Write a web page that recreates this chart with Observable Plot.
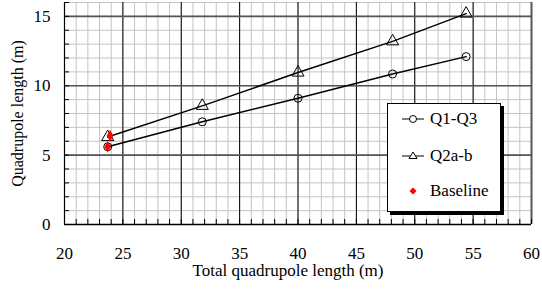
<!DOCTYPE html>
<html>
<head>
<meta charset="utf-8">
<script src="https://cdn.jsdelivr.net/npm/d3@7"></script>
<script src="https://cdn.jsdelivr.net/npm/@observablehq/plot@0.6"></script>
<style>
  html, body { margin: 0; padding: 0; background: white; }
  #wrap { position: relative; width: 542px; height: 289px; font-family: "Liberation Serif", "Times New Roman", serif; }
  #legend { position: absolute; left: 387px; top: 103px; width: 114px; height: 109px; background: white;
            border: 1px solid #000; box-shadow: 3px 3px 0 #000; box-sizing: border-box; }
  .item { position: absolute; left: 14px; height: 20px; display: flex; align-items: center; font-size: 17px; font-family: "Liberation Serif", serif; }
  .item svg { margin-right: 6px; }
</style>
</head>
<body>
<div id="wrap"></div>
<script>
// Data
const q13X = [23.7, 31.8, 40.0, 48.1, 54.4];
const q13Y = [5.6, 7.4, 9.1, 10.85, 12.1];
const q2X = [23.7, 31.8, 40.0, 48.1, 54.4];
const q2Y = [6.3, 8.55, 10.95, 13.2, 15.2];
const baseX = [23.9, 23.7];
const baseY = [6.4, 5.6];
const xTickLabels = [20, 25, 30, 35, 40, 45, 50, 55, 60];
const yTickLabels = [0, 5, 10, 15];
const seriesNames = ["Q1-Q3", "Q2a-b", "Baseline"];

const q13 = q13X.map((x, i) => ({x, y: q13Y[i]}));
const q2 = q2X.map((x, i) => ({x, y: q2Y[i]}));
const base = baseX.map((x, i) => ({x, y: baseY[i]}));

const minorX = d3.range(20, 61, 1);
const minorY = d3.range(0, 17, 1);
const majorX = xTickLabels;
const majorY = [5, 10, 15];
const serif = "'Liberation Serif', 'Times New Roman', serif";

const chart = Plot.plot({
  width: 542, height: 289,
  marginLeft: 64, marginRight: 11, marginTop: 2, marginBottom: 65,
  x: {domain: [20, 60], label: null},
  y: {domain: [0, 16], label: null},
  style: {fontFamily: serif, fontSize: "17px", background: "white", color: "#000"},
  marks: [
    Plot.gridX(minorX, {stroke: "#c4c4c4", strokeOpacity: 1}),
    Plot.gridY(minorY, {stroke: "#c4c4c4", strokeOpacity: 1}),
    Plot.gridX(majorX, {stroke: "#000", strokeOpacity: 1}),
    Plot.gridY(majorY, {stroke: "#555", strokeWidth: 1.6, strokeOpacity: 1}),
    Plot.ruleX([60], {stroke: "#555", strokeWidth: 2}),
    Plot.axisX(minorX, {tickSize: -5, text: null, label: null, stroke: "#000"}),
    Plot.axisY(minorY, {tickSize: -5, text: null, label: null, stroke: "#000"}),
    Plot.axisX(xTickLabels, {tickSize: 0, tickPadding: 22, label: null, fontSize: 17, fontFamily: serif}),
    Plot.axisY(yTickLabels, {tickSize: 0, tickPadding: 14, label: null, fontSize: 17, fontFamily: serif}),
    Plot.ruleX([20], {stroke: "#000", strokeWidth: 1.2}),
    Plot.ruleY([0], {stroke: "#000", strokeWidth: 1.5}),
    Plot.line(q13, {x: "x", y: "y", stroke: "#000", strokeWidth: 1.5}),
    Plot.line(q2, {x: "x", y: "y", stroke: "#000", strokeWidth: 1.5}),
    Plot.dot(q13, {x: "x", y: "y", symbol: "circle", r: 4, stroke: "#000", fill: "none", strokeWidth: 1}),
    Plot.dot(q2, {x: "x", y: "y", symbol: "triangle", r: 4.5, stroke: "#000", fill: "none", strokeWidth: 1}),
    Plot.dot(base, {x: "x", y: "y", symbol: "diamond", r: 3.5, fill: "#ff0000", stroke: "none"}),
    Plot.text(["Total quadrupole length (m)"], {frameAnchor: "bottom", textAnchor: "middle", lineAnchor: "middle", dx: -10, dy: 46, fontSize: 17, fontFamily: serif}),
    Plot.text(["Quadrupole length (m)"], {frameAnchor: "left", textAnchor: "middle", dx: -47, rotate: -90, fontSize: 16, fontFamily: serif})
  ]
});
const wrap = document.getElementById("wrap");
wrap.appendChild(chart);

// Legend
const legend = document.createElement("div");
legend.id = "legend";
const tops = [5, 42, 77];
seriesNames.forEach((name, i) => {
  const it = document.createElement("div");
  it.className = "item";
  it.style.top = tops[i] + "px";
  let sym;
  if (i === 0) sym = '<line x1="0" y1="10" x2="22" y2="10" stroke="#000" stroke-width="1"/><circle cx="11" cy="10" r="3.5" fill="white" stroke="#000"/>';
  else if (i === 1) sym = '<line x1="0" y1="10" x2="22" y2="10" stroke="#000" stroke-width="1"/><path d="M11,6 L15,12.5 L7,12.5 Z" fill="white" stroke="#000"/>';
  else sym = '<path d="M11,6.5 L14.5,10 L11,13.5 L7.5,10 Z" fill="#ff0000"/>';
  it.innerHTML = '<svg width="22" height="20">' + sym + '</svg><span>' + name + '</span>';
  legend.appendChild(it);
});
wrap.appendChild(legend);
</script>
</body>
</html>
